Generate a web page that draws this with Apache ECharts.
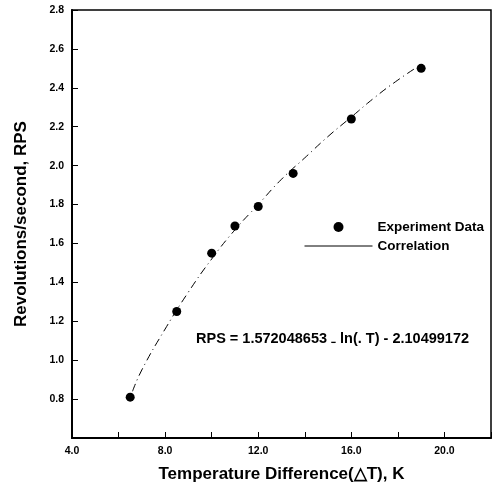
<!DOCTYPE html>
<html>
<head>
<meta charset="utf-8">
<script src="https://cdn.jsdelivr.net/npm/echarts@6/dist/echarts.min.js"></script>
<style>
  html, body { margin: 0; padding: 0; background: #fff; }
  #chart { width: 495px; height: 489px; }
</style>
</head>
<body>
<div id="chart"></div>
<script>
// experiment data
const expDeltaT = [6.5, 8.5, 10.0, 11.0, 12.0, 13.5, 16.0, 19.0];
const expRps = [0.81, 1.25, 1.55, 1.69, 1.79, 1.96, 2.24, 2.50];
// correlation curve, points
const corrDeltaT = [6.6, 7.0, 8.0, 9.0, 10.0, 11.0, 12.0, 13.0, 14.0, 15.0, 16.0, 17.0, 18.0, 19.0];
const corrRps = [0.84, 0.95, 1.16, 1.35, 1.52, 1.67, 1.80, 1.93, 2.04, 2.15, 2.25, 2.35, 2.44, 2.52];

const equationText = "RPS = 1.572048653 \u208B ln(. T) - 2.10499172";
const fontFam = "'Liberation Sans', Arial, sans-serif";

const chart = echarts.init(document.getElementById("chart"));

const option = {
  backgroundColor: "#fff",
  animation: false,
  textStyle: { fontFamily: fontFam, color: "#000" },
  grid: {
    left: 72, right: 4, top: 10, bottom: 51,
    show: true, borderColor: "#000", borderWidth: 1.5
  },
  legend: {
    orient: "vertical",
    left: 299, top: 215,
    itemWidth: 68, itemHeight: 10, itemGap: 5,
    data: [
      "Experiment Data",
      { name: "Correlation", itemStyle: { opacity: 0 } }
    ],
    textStyle: { fontFamily: fontFam, fontWeight: "bold", fontSize: 13.5, color: "#000" },
    lineStyle: { type: "solid", width: 1, color: "#000" }
  },
  xAxis: {
    type: "value",
    min: 4, max: 22, interval: 2,
    name: "Temperature Difference(\u25B3T), K",
    nameLocation: "middle",
    nameGap: 28,
    nameTextStyle: { fontFamily: fontFam, fontWeight: "bold", fontSize: 17, color: "#000" },
    axisLine: { lineStyle: { color: "#000", width: 2 } },
    axisTick: { inside: true, length: 6, lineStyle: { color: "#000", width: 1 } },
    axisLabel: {
      fontFamily: fontFam, fontWeight: "bold", fontSize: 10.5, color: "#000", margin: 8,
      showMaxLabel: true, showMinLabel: true,
      formatter: v => (Math.round(v) % 4 === 0 && v < 21 ? v.toFixed(1) : "")
    },
    splitLine: { show: false }
  },
  yAxis: {
    type: "value",
    min: 0.6, max: 2.8, interval: 0.2,
    name: "Revolutions/second, RPS",
    nameLocation: "middle",
    nameGap: 42,
    nameTextStyle: { fontFamily: fontFam, fontWeight: "bold", fontSize: 17, color: "#000" },
    axisLine: { lineStyle: { color: "#000", width: 2 } },
    axisTick: { inside: true, length: 6, lineStyle: { color: "#000", width: 1 } },
    axisLabel: {
      fontFamily: fontFam, fontWeight: "bold", fontSize: 10.5, color: "#000", margin: 8,
      formatter: v => (v < 0.7 ? "" : v.toFixed(1))
    },
    splitLine: { show: false }
  },
  graphic: [
    {
      type: "text",
      left: 196, top: 331,
      style: {
        text: equationText,
        fill: "#000",
        font: "bold 14.5px " + fontFam
      }
    }
  ],
  series: [
    {
      name: "Experiment Data",
      type: "scatter",
      symbol: "circle",
      symbolSize: 9,
      itemStyle: { color: "#000", opacity: 1 },
      data: expDeltaT.map((x, i) => [x, expRps[i]]),
      z: 3
    },
    {
      name: "Correlation",
      type: "line",
      smooth: true,
      showSymbol: false,
      symbol: "none",
      itemStyle: { color: "#000" },
      lineStyle: { color: "#000", width: 1, type: [8, 4, 1, 4] },
      data: corrDeltaT.map((x, i) => [x, corrRps[i]]),
      z: 2
    }
  ]
};

chart.setOption(option);
</script>
</body>
</html>
